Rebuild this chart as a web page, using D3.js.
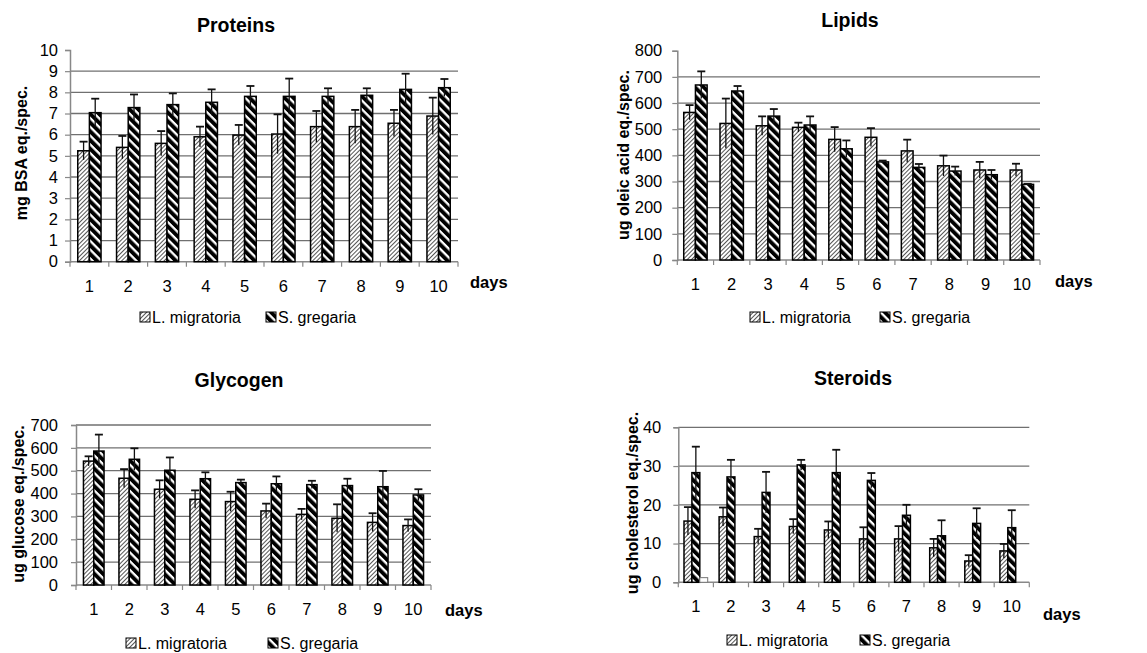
<!DOCTYPE html>
<html>
<head>
<meta charset="utf-8">
<script src="https://cdn.jsdelivr.net/npm/d3@7"></script>
<style>
  html, body { margin: 0; padding: 0; background: #fff; }
  svg { display: block; font-family: "Liberation Sans", Arial, sans-serif; }
</style>
</head>
<body>
<svg id="chart" width="1147" height="653"></svg>
<script>
// ---------- data ----------
const days = ["1", "2", "3", "4", "5", "6", "7", "8", "9", "10"];
const seriesNames = ["L. migratoria", "S. gregaria"];

const proteinsLm    = [5.24, 5.4, 5.59, 5.9, 5.98, 6.03, 6.38, 6.38, 6.54, 6.88];
const proteinsLmErr = [0.43, 0.54, 0.58, 0.48, 0.48, 0.93, 0.74, 0.79, 0.63, 0.87];
const proteinsSg    = [7.04, 7.28, 7.42, 7.53, 7.81, 7.81, 7.81, 7.86, 8.14, 8.22];
const proteinsSgErr = [0.66, 0.62, 0.53, 0.61, 0.49, 0.84, 0.38, 0.33, 0.74, 0.41];

const lipidsLm    = [564, 522, 513, 507, 461, 469, 417, 360, 344, 344];
const lipidsLmErr = [28, 95, 36, 18, 47, 35, 43, 39, 31, 24];
const lipidsSg    = [669, 646, 550, 516, 425, 375, 354, 340, 326, 289];
const lipidsSgErr = [52, 19, 27, 33, 32, 5, 13, 17, 18, 2];

const glycogenLm    = [542, 467, 419, 375, 365, 324, 309, 292, 274, 260];
const glycogenLmErr = [21, 40, 39, 39, 43, 32, 24, 61, 40, 27];
const glycogenSg    = [586, 550, 502, 465, 448, 443, 439, 435, 430, 394];
const glycogenSgErr = [72, 48, 56, 28, 13, 32, 17, 30, 69, 25];

const steroidsLm    = [15.8, 16.9, 11.8, 14.4, 13.5, 11.2, 11.2, 8.9, 5.5, 8.1];
const steroidsLmErr = [3.6, 2.4, 2.0, 1.9, 2.2, 3.0, 3.3, 2.3, 1.5, 1.8];
const steroidsSg    = [28.3, 27.2, 23.2, 30.3, 28.3, 26.3, 17.3, 12.0, 15.2, 14.1];
const steroidsSgErr = [6.7, 4.4, 5.3, 1.3, 5.9, 1.9, 2.7, 4.0, 3.9, 4.5];
const steroidsBlank = [1.2, 0, 0, 0, 0, 0, 0, 0, 0, 0];

const proteinsTicks = [0, 1, 2, 3, 4, 5, 6, 7, 8, 9, 10];
const lipidsTicks   = [0, 100, 200, 300, 400, 500, 600, 700, 800];
const glycogenTicks = [0, 100, 200, 300, 400, 500, 600, 700];
const steroidsTicks = [0, 10, 20, 30, 40];

// ---------- panels (data refs + layout) ----------
const panels = [
  { title: "Proteins", ylabel: "mg BSA eq./spec.", ticks: proteinsTicks, topGrid: false,
    series: [{ v: proteinsLm, e: proteinsLmErr, fill: "url(#hatchL)" }, { v: proteinsSg, e: proteinsSgErr, fill: "url(#stripeS)" }],
    L: 70, R: 458, T: 50, B: 261.7, group: 0.6, tickPad: 7,
    titlePos: [236, 32], ylabPos: [21, 153], daysPos: [470, 288], legPos: [140, 317], legGap: 126 },
  { title: "Lipids", ylabel: "ug oleic acid eq./spec.", ticks: lipidsTicks, topGrid: false,
    series: [{ v: lipidsLm, e: lipidsLmErr, fill: "url(#hatchL)" }, { v: lipidsSg, e: lipidsSgErr, fill: "url(#stripeS)" }],
    L: 677.3, R: 1040, T: 50.7, B: 260, group: 0.645, tickPad: 10,
    titlePos: [850, 27], ylabPos: [623, 155], daysPos: [1055, 287], legPos: [750, 317], legGap: 130 },
  { title: "Glycogen", ylabel: "ug glucose eq./spec.", ticks: glycogenTicks, topGrid: true,
    series: [{ v: glycogenLm, e: glycogenLmErr, fill: "url(#hatchL)" }, { v: glycogenSg, e: glycogenSgErr, fill: "url(#stripeS)" }],
    L: 76, R: 431, T: 425, B: 585, group: 0.58, tickPad: 13,
    titlePos: [239, 387], ylabPos: [18.5, 504], daysPos: [445, 616], legPos: [126, 643], legGap: 142 },
  { title: "Steroids", ylabel: "ug cholesterol eq./spec.", ticks: steroidsTicks, topGrid: true,
    series: [{ v: steroidsLm, e: steroidsLmErr, fill: "url(#hatchL)" }, { v: steroidsSg, e: steroidsSgErr, fill: "url(#stripeS)" },
             { v: steroidsBlank, e: null, fill: "#fff", stroke: "#777" }],
    L: 678.3, R: 1029.3, T: 427.3, B: 582.3, group: 0.675, tickPad: 12,
    titlePos: [853, 385], ylabPos: [632, 503], daysPos: [1043, 620], legPos: [727, 640], legGap: 133 }
];

const svg = d3.select("#chart");
const defs = svg.append("defs");

// light upward-diagonal hatch
const pL = defs.append("pattern").attr("id", "hatchL").attr("patternUnits", "userSpaceOnUse")
  .attr("width", 3).attr("height", 3).attr("patternTransform", "rotate(45)");
pL.append("rect").attr("width", 3).attr("height", 3).attr("fill", "#fff");
pL.append("rect").attr("x", 0).attr("width", 1).attr("height", 3).attr("fill", "#555");

// bold downward-diagonal stripes
const pS = defs.append("pattern").attr("id", "stripeS").attr("patternUnits", "userSpaceOnUse")
  .attr("width", 6.2).attr("height", 6.2).attr("patternTransform", "rotate(-45)");
pS.append("rect").attr("width", 6.2).attr("height", 6.2).attr("fill", "#fff");
pS.append("rect").attr("x", 0).attr("width", 3.9).attr("height", 6.2).attr("fill", "#000");

panels.forEach(p => {
  const g = svg.append("g");
  const yMax = p.ticks[p.ticks.length - 1];
  const y = d3.scaleLinear().domain([0, yMax]).range([p.B, p.T]);
  const x = d3.scaleBand().domain(days).range([p.L, p.R]).paddingInner(0).paddingOuter(0);
  const bw = x.bandwidth();
  const nS = p.series.length;
  const xs = d3.scaleBand().domain(d3.range(nS)).range([bw * (1 - p.group) / 2, bw * (1 + p.group) / 2]).padding(0);

  // gridlines
  g.append("g").selectAll("line")
    .data(p.ticks.filter(t => t > 0 && (p.topGrid || t < yMax)))
    .join("line")
    .attr("x1", p.L).attr("x2", p.R)
    .attr("y1", d => y(d)).attr("y2", d => y(d))
    .attr("stroke", "#707070").attr("stroke-width", 1.3);

  // y axis
  const yAxis = d3.axisLeft(y).tickValues(p.ticks).tickSize(5).tickPadding(p.tickPad).tickFormat(d3.format("d"));
  const ya = g.append("g").attr("transform", `translate(${p.L},0)`).call(yAxis);
  ya.select(".domain").attr("stroke", "#888").attr("stroke-width", 1.5);
  ya.selectAll(".tick line").attr("stroke", "#888").attr("stroke-width", 1.2);
  ya.selectAll("text").attr("font-size", 16.5).attr("fill", "#000")
    .attr("font-family", "Liberation Sans, Arial, sans-serif");

  // x axis baseline with boundary ticks
  g.append("line").attr("x1", p.L).attr("x2", p.R).attr("y1", p.B).attr("y2", p.B)
    .attr("stroke", "#888").attr("stroke-width", 1.5);
  const bounds = days.map(d => x(d)).concat([p.R]);
  g.append("g").selectAll("line").data(bounds).join("line")
    .attr("x1", d => d).attr("x2", d => d).attr("y1", p.B).attr("y2", p.B + 5)
    .attr("stroke", "#888").attr("stroke-width", 1.2);
  g.append("g").selectAll("text").data(days).join("text")
    .attr("x", d => x(d) + bw / 2).attr("y", p.B + 30)
    .attr("text-anchor", "middle").attr("font-size", 16.5).text(d => d);

  // bars
  p.series.forEach((s, si) => {
    const sg = g.append("g");
    sg.selectAll("rect").data(days.map((d, i) => ({ d, v: s.v[i] })).filter(o => o.v > 0)).join("rect")
      .attr("x", o => x(o.d) + xs(si))
      .attr("y", o => y(o.v))
      .attr("width", xs.bandwidth())
      .attr("height", o => p.B - y(o.v))
      .attr("fill", s.fill)
      .attr("stroke", s.stroke || "#000")
      .attr("stroke-width", s.stroke ? 1 : 1.5);
  });

  // error bars
  p.series.forEach((s, si) => {
    if (!s.e) return;
    const eg = g.append("g").attr("stroke", "#111").attr("stroke-width", 1.3);
    days.forEach((d, i) => {
      const cx = x(d) + xs(si) + xs.bandwidth() / 2;
      const top = y(s.v[i] + s.e[i]);
      const bot = y(Math.max(0, s.v[i] - s.e[i]));
      eg.append("line").attr("x1", cx).attr("x2", cx).attr("y1", bot).attr("y2", top);
      eg.append("line").attr("x1", cx - 4).attr("x2", cx + 4).attr("y1", top).attr("y2", top).attr("stroke-width", 1.8);
    });
  });

  // title
  g.append("text").attr("x", p.titlePos[0]).attr("y", p.titlePos[1])
    .attr("text-anchor", "middle").attr("font-size", 19.5).attr("font-weight", "bold").text(p.title);

  // y label
  g.append("text").attr("transform", `translate(${p.ylabPos[0]},${p.ylabPos[1]}) rotate(-90)`)
    .attr("text-anchor", "middle").attr("dominant-baseline", "central")
    .attr("font-size", 16).attr("font-weight", "bold").text(p.ylabel);

  // days label
  g.append("text").attr("x", p.daysPos[0]).attr("y", p.daysPos[1])
    .attr("font-size", 16.5).attr("font-weight", "bold").text("days");

  // legend
  const lg = g.append("g");
  seriesNames.forEach((name, i) => {
    const lx = p.legPos[0] + i * p.legGap;
    lg.append("rect").attr("x", lx).attr("y", p.legPos[1] - 5).attr("width", 10).attr("height", 10)
      .attr("fill", p.series[i].fill).attr("stroke", "#000").attr("stroke-width", 1);
    lg.append("text").attr("x", lx + 12).attr("y", p.legPos[1]).attr("dominant-baseline", "central")
      .attr("font-size", 16).text(name);
  });
});
</script>
</body>
</html>
